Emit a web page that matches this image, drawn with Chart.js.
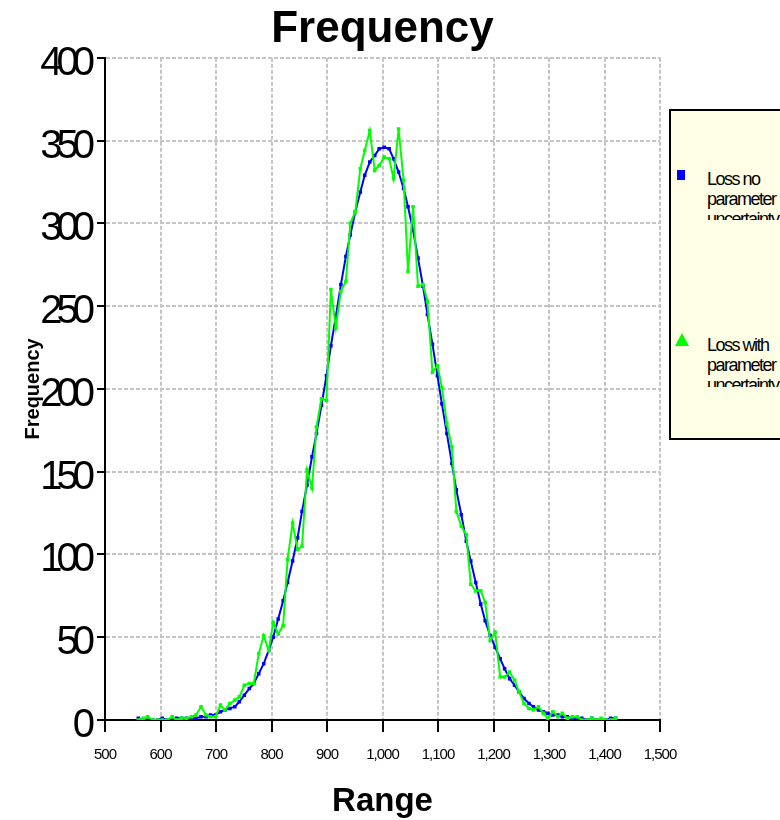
<!DOCTYPE html>
<html>
<head>
<meta charset="utf-8">
<script src="https://cdn.jsdelivr.net/npm/chart.js@4.4.0/dist/chart.umd.min.js"></script>
<style>
  html, body { margin: 0; padding: 0; background: #fff; overflow: hidden; }
  #wrap { position: relative; width: 780px; height: 820px; overflow: hidden; }
  #legend {
    position: absolute; left: 669px; top: 109px; width: 140px; height: 331px;
    background: #ffffe5; border: 2px solid #000; box-sizing: border-box;
    font-family: "Liberation Sans", Arial, sans-serif; color: #000;
  }
  .sym { position: absolute; }
  .txt {
    position: absolute; left: 36px; width: 80px; overflow: hidden;
    font-size: 18px; line-height: 20px; letter-spacing: -1.5px;
  }
</style>
</head>
<body>
<div id="wrap">
  <canvas id="chart" width="780" height="820"></canvas>
  <div id="legend">
    <div class="sym" style="left:6px;top:59px;width:8px;height:10px;background:#0000ff"></div>
    <div class="txt" style="top:58px;height:51px">Loss no parameter uncertainty</div>
    <div class="sym" style="left:4px;top:222px;width:0;height:0;border-left:7px solid transparent;border-right:7px solid transparent;border-bottom:13px solid #00ff00"></div>
    <div class="txt" style="top:224px;height:52px">Loss with parameter uncertainty</div>
  </div>
</div>
<script>
// bin centres of the histogram (Range)
const binCenters = [
  560, 569, 577, 586, 595, 603, 612, 621, 629, 638,
  647, 656, 664, 673, 682, 690, 699, 708, 716, 725,
  734, 742, 751, 760, 768, 777, 786, 795, 803, 812,
  821, 829, 838, 847, 855, 864, 873, 881, 890, 899,
  907, 916, 925, 934, 942, 951, 960, 968, 977, 986,
  994, 1003, 1012, 1020, 1029, 1038, 1046, 1055, 1064, 1073,
  1081, 1090, 1099, 1107, 1116, 1125, 1133, 1142, 1151, 1159,
  1168, 1177, 1185, 1194, 1203, 1212, 1220, 1229, 1238, 1246,
  1255, 1264, 1272, 1281, 1290, 1298, 1307, 1316, 1324, 1333,
  1342, 1351, 1359, 1368, 1377, 1385, 1394, 1403, 1411, 1420
];

// Loss no parameter uncertainty
const lossNoParam = [
  1, 0, 0, 0, 0, 1, 0, 0, 1, 1,
  1, 1, 1, 2, 2, 3, 3, 5, 6, 7,
  8, 11, 15, 19, 22, 28, 34, 42, 50, 61,
  72, 83, 96, 110, 126, 142, 159, 173, 190, 208,
  226, 244, 263, 280, 293, 307, 319, 329, 337, 341,
  345, 346, 345, 339, 331, 321, 310, 296, 279, 262,
  245, 227, 208, 191, 173, 155, 139, 124, 108, 96,
  83, 70, 60, 51, 44, 37, 31, 25, 21, 17,
  13, 10, 8, 6, 5, 4, 3, 3, 2, 2,
  1, 1, 1, 0, 1, 0, 0, 0, 1, 1
];

// Loss with parameter uncertainty
const lossWithParam = [
  0, 1, 2, 0, 0, 0, 0, 2, 0, 1,
  1, 2, 3, 8, 3, 2, 2, 9, 6, 10,
  12, 14, 21, 22, 22, 40, 51, 42, 59, 52,
  57, 97, 119, 103, 105, 151, 140, 177, 194, 193,
  260, 237, 259, 265, 300, 307, 333, 344, 356, 332,
  335, 340, 339, 327, 357, 326, 271, 310, 262, 263,
  253, 210, 214, 201, 179, 165, 126, 117, 112, 82,
  78, 78, 71, 48, 53, 26, 26, 29, 24, 17,
  10, 7, 6, 8, 4, 1, 5, 2, 4, 1,
  2, 2, 0, 0, 1, 0, 1, 0, 0, 1
];

const xMin = 500, xMax = 1500, xStep = 100;
const yMin = 0, yMax = 400, yStep = 50;

const FONT = '"Liberation Sans", Arial, sans-serif';

// linear scale whose tick labels are drawn with tighter letter spacing
class TightLinearScale extends Chart.LinearScale {
  drawLabels(chartArea) {
    const ctx = this.ctx;
    ctx.save();
    ctx.letterSpacing = this.options.ticks.letterSpacing || '0px';
    super.drawLabels(chartArea);
    ctx.restore();
  }
}
TightLinearScale.id = 'tightLinear';
TightLinearScale.defaults = Chart.LinearScale.defaults;
Chart.register(TightLinearScale);

const toPoints = (values) => values.map((v, i) => ({ x: binCenters[i], y: v }));

const gridLook = {
  color: '#c4c4c4',
  lineWidth: 2,
  tickColor: '#000',
  tickWidth: 2,
};

new Chart(document.getElementById('chart').getContext('2d'), {
  type: 'line',
  data: {
    datasets: [
      {
        label: 'Loss with parameter uncertainty',
        data: toPoints(lossWithParam),
        borderColor: '#00ff00',
        backgroundColor: '#00ff00',
        borderWidth: 2,
        pointStyle: 'rect',
        pointRadius: 2.5,
        pointBorderWidth: 0,
        order: 0,
      },
      {
        label: 'Loss no parameter uncertainty',
        data: toPoints(lossNoParam),
        borderColor: '#0000ff',
        backgroundColor: '#0000ff',
        borderWidth: 2,
        pointStyle: 'rect',
        pointRadius: 2.5,
        pointBorderWidth: 0,
        order: 1,
      },
    ],
  },
  options: {
    responsive: false,
    animation: false,
    layout: { padding: { left: 0, right: 120, top: 0, bottom: 0 } },
    plugins: {
      legend: { display: false },
      tooltip: { enabled: false },
      title: {
        display: true,
        fullSize: false,
        text: 'Frequency',
        color: '#000',
        font: { family: FONT, size: 44, weight: 'bold' },
        padding: { top: 3, bottom: 2 },
      },
    },
    scales: {
      x: {
        type: 'tightLinear',
        min: xMin,
        max: xMax,
        afterFit: (scale) => { scale.height = 100; },
        ticks: {
          stepSize: xStep,
          color: '#000',
          font: { family: FONT, size: 15 },
          letterSpacing: '-1px',
          padding: 14,
          maxRotation: 0,
        },
        grid: { ...gridLook, tickLength: 12 },
        border: { color: '#000', width: 2, dash: [4, 2] },
        title: {
          display: true,
          text: 'Range',
          color: '#000',
          font: { family: FONT, size: 33, weight: 'bold' },
          padding: { top: 0, bottom: -2 },
        },
      },
      y: {
        type: 'tightLinear',
        min: yMin,
        max: yMax,
        afterFit: (scale) => { scale.width = 105; },
        ticks: {
          stepSize: yStep,
          color: '#000',
          font: { family: FONT, size: 40 },
          letterSpacing: '-6px',
          padding: 8,
          labelOffset: 6,
        },
        grid: { ...gridLook, tickLength: 8 },
        border: { color: '#000', width: 2, dash: [4, 2] },
        title: {
          display: true,
          text: 'Frequency',
          color: '#000',
          font: { family: FONT, size: 20, weight: 'bold' },
          padding: { top: 21, bottom: 0 },
        },
      },
    },
  },
});
</script>
</body>
</html>
